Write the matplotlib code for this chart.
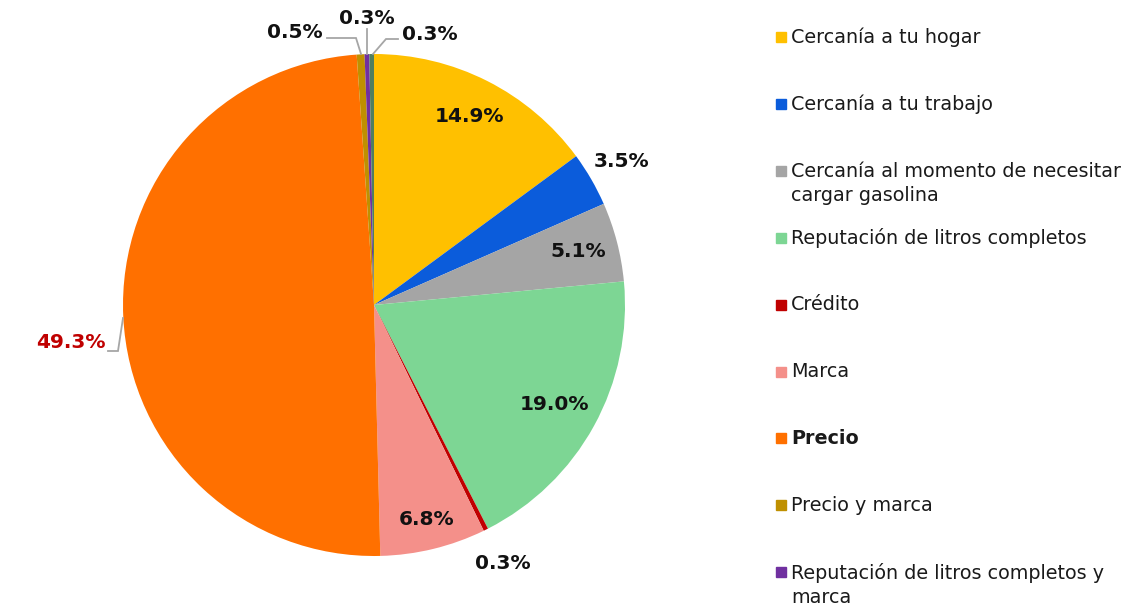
import numpy as np
import matplotlib.pyplot as plt
from matplotlib.patches import Rectangle

# datos (orden de las rebanadas, sentido horario desde arriba)
motivos = ['Cercanía a tu hogar', 'Cercanía a tu trabajo',
           'Cercanía al momento de necesitar\ncargar gasolina',
           'Reputación de litros completos', 'Crédito', 'Marca', 'Precio',
           'Precio y marca', 'Reputación de litros completos y\nmarca', 'Otro']
porcentajes = [14.9, 3.5, 5.1, 19.0, 0.3, 6.8, 49.3, 0.5, 0.3, 0.3]
colores = ['#FFC000', '#0B5CDB', '#A5A5A5', '#7DD694', '#C00000', '#F4908A',
           '#FF7000', '#BF9000', '#7030A0', '#4F7F5F']

W, H = 1148, 611
cx, cy, R = 374, 305, 251

fig = plt.figure(figsize=(W / 100, H / 100), dpi=100)
ax = fig.add_axes([(cx - R) / W, (H - cy - R) / H, 2 * R / W, 2 * R / H])
wedges, _ = ax.pie(porcentajes, colors=colores, startangle=90, counterclock=False,
                   radius=1, wedgeprops=dict(linewidth=0))
ax.set_xlim(-1, 1)
ax.set_ylim(-1, 1)
ax.axis('off')


def px(x, y):
    # pixel de la imagen -> coordenadas de datos
    return ((x - cx) / R, (cy - y) / R)


# radio de etiqueta para cada rebanada (None = con linea guia)
radios = [0.84, 1.14, 0.84, 0.82, 1.15, 0.88, None, None, None, None]
fs = 14.5
for i, (w, v) in enumerate(zip(wedges, porcentajes)):
    ang = np.deg2rad((w.theta1 + w.theta2) / 2)
    if radios[i] is not None:
        r = radios[i]
        ax.text(r * np.cos(ang), r * np.sin(ang), f'{v:.1f}%', ha='center', va='center',
                fontsize=fs, fontweight='bold', color='#111111', clip_on=False)

gris = '#A6A6A6'
# etiquetas con lineas guia
guias = {
    6: dict(txt=px(106, 342), ha='right', path=[px(123, 318), px(118, 351), px(108, 351)], color='#C00000'),
    7: dict(txt=px(295, 33), ha='center', path=[px(361, 54), px(356, 38), px(327, 38)], color='#111111'),
    8: dict(txt=px(367, 18), ha='center', path=[px(367, 54), px(367, 29)], color='#111111'),
    9: dict(txt=px(430, 35), ha='center', path=[px(373, 54), px(386, 39), px(398, 39)], color='#111111'),
}
for i, g in guias.items():
    xs, ys = zip(*g['path'])
    ax.plot(xs, ys, color=gris, lw=1.3, clip_on=False, solid_joinstyle='miter')
    ax.text(g['txt'][0], g['txt'][1], f'{porcentajes[i]:.1f}%', ha=g['ha'], va='center',
            fontsize=fs, fontweight='bold', color=g['color'], clip_on=False)

# leyenda manual (la ultima categoria queda fuera del recuadro)
for i, (m, c) in enumerate(zip(motivos[:9], colores[:9])):
    y = 37 + 66.9 * i
    nl = m.count('\n') + 1
    fig.patches.append(Rectangle((776 / W, (H - y - 5) / H), 10 / W, 10 / H,
                                 transform=fig.transFigure, color=c, figure=fig))
    fig.text(791 / W, (H - y - 13 * (nl - 1)) / H, m, ha='left', va='center',
             fontsize=13.8, color='#1a1a1a', linespacing=1.34,
             fontweight='bold' if m == 'Precio' else 'normal')

fig.savefig('out.png', dpi=100)
